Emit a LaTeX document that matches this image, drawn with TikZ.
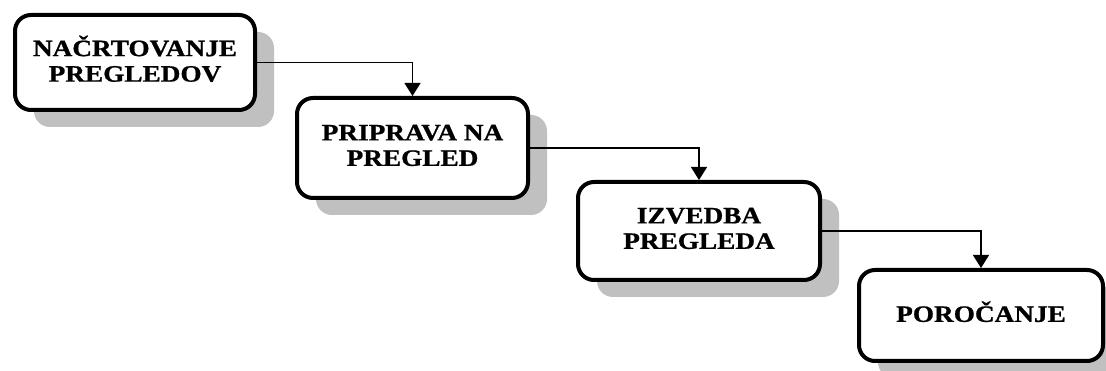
\documentclass[tikz,border=0pt]{standalone}
\usepackage{fontspec}
\setmainfont{Liberation Serif}
\newfontfamily\stagefont{Liberation Serif Bold}[FakeBold=0.8]
\usetikzlibrary{arrows.meta}
\definecolor{shadowgray}{RGB}{192,192,192}
\tikzset{
  stagebox/.style={draw=black, line width=4pt, fill=white, rounded corners=16pt,
    align=center, inner sep=0pt},
  stageshadow/.style={fill=shadowgray, rounded corners=16pt},
  flow/.style={line width=1.3pt, -{Triangle[width=16pt,length=13pt]}}
}
% wide bold caption lines
\newcommand{\stagetext}[1]{\scalebox{1.16}[1]{\stagefont\fontsize{23.5}{25.5}\selectfont
  \begin{tabular}{@{}c@{}}#1\end{tabular}}}
\newcommand{\stage}[6]{%
  % #1 name, #2 x, #3 y, #4 width, #5 height, #6 text
  \fill[stageshadow] ({#2-#4/2+19},{#3-#5/2+17}) rectangle ({#2+#4/2+19},{#3+#5/2+17});
  \node[stagebox, minimum width=#4pt, minimum height=#5pt] (#1) at (#2,#3) {\stagetext{#6}};
}
\begin{document}
\begin{tikzpicture}[x=1pt, y=-1pt]
  \useasboundingbox (0,0) rectangle (1106,371);
  \fill[white] (0,0) rectangle (1106,371);
  \stage{plan}{135}{62.5}{240}{95}{NAČRTOVANJE\\PREGLEDOV}
  \stage{prep}{412.5}{148}{231}{100}{PRIPRAVA NA\\PREGLED}
  \stage{exec}{699}{231}{242}{98}{IZVEDBA\\PREGLEDA}
  \stage{report}{981}{315.5}{244}{91}{POROČANJE}
  \draw[flow] (plan.east) -| (prep.north);
  \draw[flow] (prep.east) -| (exec.north);
  \draw[flow] (exec.east) -| (report.north);
\end{tikzpicture}
\end{document}
